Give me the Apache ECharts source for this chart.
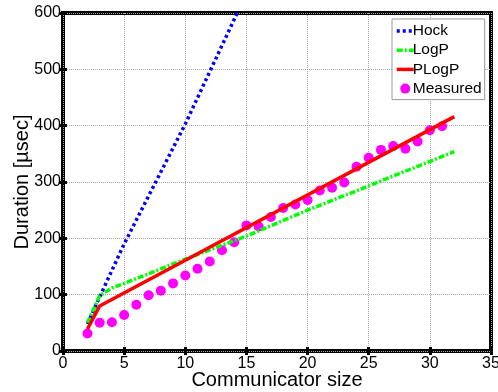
<!DOCTYPE html>
<html>
<head>
<meta charset="utf-8">
<script src="https://cdn.jsdelivr.net/npm/echarts@6/dist/echarts.min.js"></script>
<style>
html,body{margin:0;padding:0;background:#fff;}
#c{width:498px;height:392px;}
</style>
</head>
<body>
<div id="c"></div>
<script>
// ---- data ----
const hockX = [2, 3, 5, 10, 15];
const hockY = [48, 96, 190, 403, 635];
const logpX = [2, 3, 4, 5, 10, 15, 20, 25, 32];
const logpY = [50, 98, 112, 120, 163, 204, 250, 293, 354];
const plogpX = [2, 3, 32];
const plogpY = [39, 80, 416];
const measuredX = [2,3,4,5,6,7,8,9,10,11,12,13,14,15,16,17,18,19,20,21,22,23,24,25,26,27,28,29,30,31];
const measuredY = [31,50,51,64,82,99,107,120,134,146,159,179,193,223,221,238,254,260,268,285,290,299,327,343,357,364,359,372,392,399];
const xTicks = [0,5,10,15,20,25,30,35];
const yTicks = [0,100,200,300,400,500,600];

const pairs = (xs, ys) => xs.map((x, i) => [x, ys[i]]);
const FONT = 'Liberation Sans';

const chart = echarts.init(document.getElementById('c'), null, {renderer: 'canvas'});
const gridLine = {show: true, lineStyle: {color: '#a8a8a8', type: [1, 1], width: 1}};
const tick = {show: true, inside: true, length: 4, lineStyle: {color: '#000', width: 3}};
const hidden = {opacity: 0};
const legLine = {width: 3.5};

chart.setOption({
  animation: false,
  backgroundColor: '#fff',
  textStyle: {fontFamily: FONT},
  grid: {left: 63, right: 7, top: 13, bottom: 41, outerBoundsMode: 'none', containLabel: false,
         show: true, borderColor: '#000', borderWidth: 4, backgroundColor: 'transparent'},
  legend: {
    orient: 'vertical',
    left: 392, top: 19,
    padding: [4, 3, 3, 3],
    itemWidth: 17, itemHeight: 10, itemGap: 3.2,
    backgroundColor: '#fff', borderColor: '#999', borderWidth: 1,
    textStyle: {fontFamily: FONT, fontSize: 15.5, color: '#000', padding: [0, 0, 0, -6]},
    data: [
      {name: 'Hock', itemStyle: hidden, lineStyle: legLine},
      {name: 'LogP', itemStyle: hidden, lineStyle: legLine},
      {name: 'PLogP', itemStyle: hidden, lineStyle: legLine},
      {name: 'Measured', icon: 'circle', itemStyle: {}}
    ]
  },
  xAxis: [{
    type: 'value', min: 0, max: 35, interval: 5, position: 'bottom',
    name: 'Communicator size', nameLocation: 'middle', nameGap: 19, nameMoveOverlap: false,
    nameTextStyle: {fontFamily: FONT, fontSize: 20, color: '#000'},
    axisLine: {show: false},
    axisTick: tick,
    axisLabel: {fontFamily: FONT, fontSize: 16, color: '#000', margin: 5, formatter: v => xTicks.includes(v) ? String(v) : ''},
    splitLine: gridLine
  }, {
    type: 'value', min: 0, max: 35, interval: 5, position: 'top',
    axisLine: {show: false}, axisTick: tick, axisLabel: {show: false}, splitLine: {show: false}
  }],
  yAxis: [{
    type: 'value', min: 0, max: 600, interval: 100, position: 'left',
    name: 'Duration [µsec]', nameLocation: 'middle', nameGap: 31, nameMoveOverlap: false,
    nameTextStyle: {fontFamily: FONT, fontSize: 20, color: '#000'},
    axisLine: {show: false},
    axisTick: tick,
    axisLabel: {fontFamily: FONT, fontSize: 16, color: '#000', margin: 2, formatter: v => yTicks.includes(v) ? String(v) : ''},
    splitLine: gridLine
  }, {
    type: 'value', min: 0, max: 600, interval: 100, position: 'right',
    axisLine: {show: false}, axisTick: tick, axisLabel: {show: false}, splitLine: {show: false}
  }],
  series: [
    {name: 'Hock', type: 'line', data: pairs(hockX, hockY), symbol: 'none', clip: true,
     lineStyle: {color: '#0000ff', width: 3.5, type: [3, 3]}, itemStyle: {color: '#0000ff'}},
    {name: 'LogP', type: 'line', data: pairs(logpX, logpY), symbol: 'none', clip: true,
     lineStyle: {color: '#00ff00', width: 3.5, type: [6, 2, 2, 2]}, itemStyle: {color: '#00ff00'}},
    {name: 'PLogP', type: 'line', data: pairs(plogpX, plogpY), symbol: 'none', clip: true,
     lineStyle: {color: '#ff0000', width: 3.5}, itemStyle: {color: '#ff0000'}},
    {name: 'Measured', type: 'scatter', data: pairs(measuredX, measuredY), symbol: 'circle', symbolSize: 10,
     itemStyle: {color: '#ff00ff', opacity: 1}}
  ]
});
</script>
</body>
</html>
